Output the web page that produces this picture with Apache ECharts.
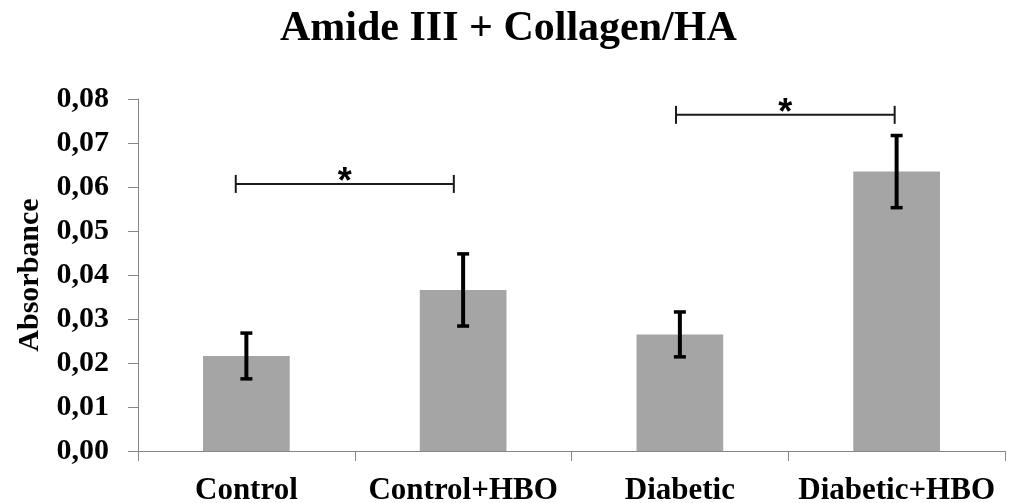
<!DOCTYPE html>
<html>
<head>
<meta charset="utf-8">
<script src="https://cdn.jsdelivr.net/npm/echarts@6/dist/echarts.min.js"></script>
<style>
  html, body { margin: 0; padding: 0; background: #fff; }
  #chart { width: 1013px; height: 503px; }
</style>
</head>
<body>
<div id="chart"></div>
<script>
var titleText = 'Amide III + Collagen/HA';
var yAxisName = 'Absorbance';
var categories = ['Control', 'Control+HBO', 'Diabetic', 'Diabetic+HBO'];
var means = [0.0216, 0.0366, 0.0265, 0.0635];
var errors = [0.0052, 0.0082, 0.0051, 0.0082];
var yTicks = [0, 0.01, 0.02, 0.03, 0.04, 0.05, 0.06, 0.07, 0.08];
// significance brackets: [start (category units), end (category units), height]
var bracketStart = [0.451, 2.482];
var bracketEnd = [1.457, 3.491];
var bracketHeight = [0.0607, 0.0764];
var bracketMark = ['*', '*'];

var errorData = means.map(function (m, i) { return [i, m - errors[i], m + errors[i]]; });
var bracketData = bracketStart.map(function (s, i) { return [s, bracketEnd[i], bracketHeight[i], i]; });

var serif = '"Liberation Serif", "DejaVu Serif", serif';
var chart = echarts.init(document.getElementById('chart'), null, { renderer: 'canvas' });

chart.setOption({
  animation: false,
  backgroundColor: '#ffffff',
  title: {
    text: titleText,
    left: 275,
    top: 3,
    textStyle: { fontFamily: serif, fontWeight: 'bold', fontSize: 42, color: '#000' }
  },
  grid: { left: 138, right: 8, top: 99, bottom: 52, containLabel: false, outerBoundsMode: 'none' },
  xAxis: [{
    type: 'category',
    data: categories,
    axisLine: { lineStyle: { color: '#868686', width: 1 } },
    axisTick: { show: true, length: 10, interval: 0, lineStyle: { color: '#868686' } },
    axisLabel: { interval: 0, fontFamily: serif, fontWeight: 'bold', fontSize: 31, color: '#000', margin: 24 }
  }, {
    type: 'value',
    min: 0, max: categories.length,
    show: false
  }],
  yAxis: {
    type: 'value',
    min: 0, max: 0.08, interval: 0.01,
    name: yAxisName,
    nameLocation: 'middle',
    nameGap: 92,
    nameTextStyle: { fontFamily: serif, fontWeight: 'bold', fontSize: 30, color: '#000' },
    axisLine: { show: true, lineStyle: { color: '#868686', width: 1 } },
    axisTick: { show: true, length: 10, lineStyle: { color: '#868686' } },
    splitLine: { show: false },
    axisLabel: {
      fontFamily: serif, fontWeight: 'bold', fontSize: 30, color: '#000', margin: 29,
      formatter: function (v) { return v.toFixed(2).replace('.', ','); }
    }
  },
  series: [{
    type: 'bar',
    data: means,
    barCategoryGap: '60%',
    itemStyle: { color: '#a5a5a5' }
  }, {
    type: 'custom',
    data: errorData,
    z: 10,
    renderItem: function (params, api) {
      var x = api.value(0);
      var lo = api.coord([x, api.value(1)]);
      var hi = api.coord([x, api.value(2)]);
      var cx = lo[0], hw = 6;
      var st = { stroke: '#000', lineWidth: 4 };
      var cs = { stroke: '#000', lineWidth: 3.5 };
      return {
        type: 'group',
        children: [
          { type: 'line', shape: { x1: cx, y1: lo[1], x2: cx, y2: hi[1] }, style: st },
          { type: 'line', shape: { x1: cx - hw, y1: lo[1], x2: cx + hw, y2: lo[1] }, style: cs },
          { type: 'line', shape: { x1: cx - hw, y1: hi[1], x2: cx + hw, y2: hi[1] }, style: cs }
        ]
      };
    }
  }, {
    type: 'custom',
    xAxisIndex: 1,
    yAxisIndex: 0,
    data: bracketData,
    z: 10,
    renderItem: function (params, api) {
      var a = api.coord([api.value(0), api.value(2)]);
      var b = api.coord([api.value(1), api.value(2)]);
      var y = a[1];
      var st = { stroke: '#1a1a1a', lineWidth: 2 };
      var mark = bracketMark[api.value(3)];
      return {
        type: 'group',
        children: [
          { type: 'line', shape: { x1: a[0], y1: y, x2: b[0], y2: y }, style: st },
          { type: 'line', shape: { x1: a[0], y1: y - 9, x2: a[0], y2: y + 9 }, style: st },
          { type: 'line', shape: { x1: b[0], y1: y - 9, x2: b[0], y2: y + 9 }, style: st },
          { type: 'text', style: {
              text: mark, x: (a[0] + b[0]) / 2, y: y - 1,
              align: 'center', verticalAlign: 'middle',
              font: 'bold 36px "Liberation Sans", Arial, sans-serif', fill: '#000'
          } }
        ]
      };
    }
  }]
});
</script>
</body>
</html>
